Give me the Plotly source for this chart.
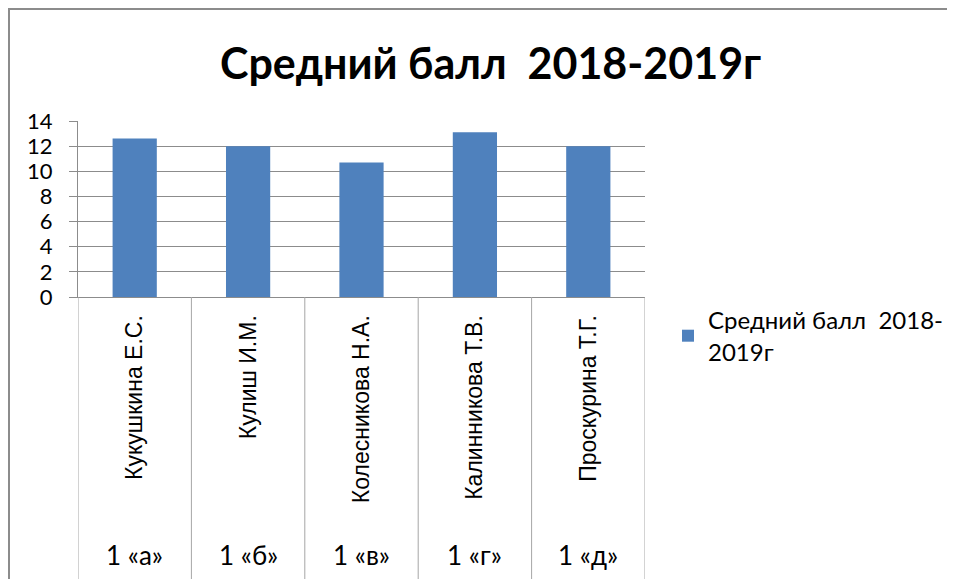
import plotly.graph_objects as go

teachers = ["Кукушкина Е.С.", "Кулиш И.М.", "Колесникова Н.А.", "Калинникова Т.В.", "Проскурина Т.Г."]
classes = ["1 «а»", "1 «б»", "1 «в»", "1 «г»", "1 «д»"]
scores = [12.6, 12.0, 10.7, 13.1, 12.0]
series_name = "Средний балл  2018-<br>2019г"
title_text = "Средний балл  2018-2019г"
y_ticks = [0, 2, 4, 6, 8, 10, 12, 14]

# page body has an 8px margin, so the figure is drawn 8px in from the window edge
W, H = 947, 571
L, T = 70, 113
PR, PB = 637, 289
R, B = W - PR, H - PB
pw, ph = PR - L, PB - T

def px_x(x):
    return (x - L) / pw

def px_y(y):
    return (PB - y) / ph

fig = go.Figure()
fig.add_trace(go.Bar(
    x=list(range(len(teachers))), y=scores, name=series_name,
    marker=dict(color="#4f81bd", line=dict(width=0)), width=0.39,
))

shapes = []
for i in range(len(teachers) + 1):
    shapes.append(dict(type="line", xref="x", yref="paper", x0=i - 0.5, x1=i - 0.5,
                       y0=0, y1=px_y(H + 5), line=dict(color="#a6a6a6", width=1)))
shapes.append(dict(type="rect", xref="paper", yref="paper", x0=px_x(1), x1=px_x(942),
                   y0=px_y(H + 20), y1=px_y(1), line=dict(color="#8c8c8c", width=2),
                   fillcolor="rgba(0,0,0,0)", layer="below"))

annotations = []
for i, c in enumerate(classes):
    annotations.append(dict(x=i, y=px_y(547), xref="x", yref="paper", text=c,
                            showarrow=False, font=dict(family="Lato", size=26, color="#000"),
                            xanchor="center", yanchor="middle"))
annotations.append(dict(x=px_x(482), y=px_y(54), xref="paper", yref="paper",
                        text="<b>" + title_text + "</b>",
                        showarrow=False, font=dict(family="Lato", size=43, color="#000"),
                        xanchor="center", yanchor="middle"))

fig.update_layout(
    width=W, height=H,
    margin=dict(l=L, r=R, t=T, b=B, autoexpand=False),
    paper_bgcolor="white", plot_bgcolor="white",
    showlegend=True,
    legend=dict(x=px_x(660), y=px_y(290), xanchor="left", yanchor="top",
                font=dict(family="Lato", size=24, color="#000"),
                bgcolor="rgba(0,0,0,0)", itemwidth=30, tracegroupgap=0),
    xaxis=dict(range=[-0.5, len(teachers) - 0.5], tickmode="array",
               tickvals=list(range(len(teachers))), ticktext=teachers,
               tickangle=-90, showgrid=False, showline=True, linecolor="#8c8c8c",
               ticks="", ticklabelstandoff=8, zeroline=False,
               tickfont=dict(family="Liberation Sans", size=23, color="#000")),
    yaxis=dict(range=[0, 14], tickmode="array", tickvals=y_ticks,
               showgrid=True, gridcolor="#8c8c8c", gridwidth=1,
               showline=True, linecolor="#8c8c8c", ticks="outside", ticklen=8,
               tickcolor="#8c8c8c", ticklabelstandoff=12, zeroline=False,
               tickfont=dict(family="Lato", size=22, color="#000")),
    shapes=shapes, annotations=annotations,
)

fig.write_html("out.html")
